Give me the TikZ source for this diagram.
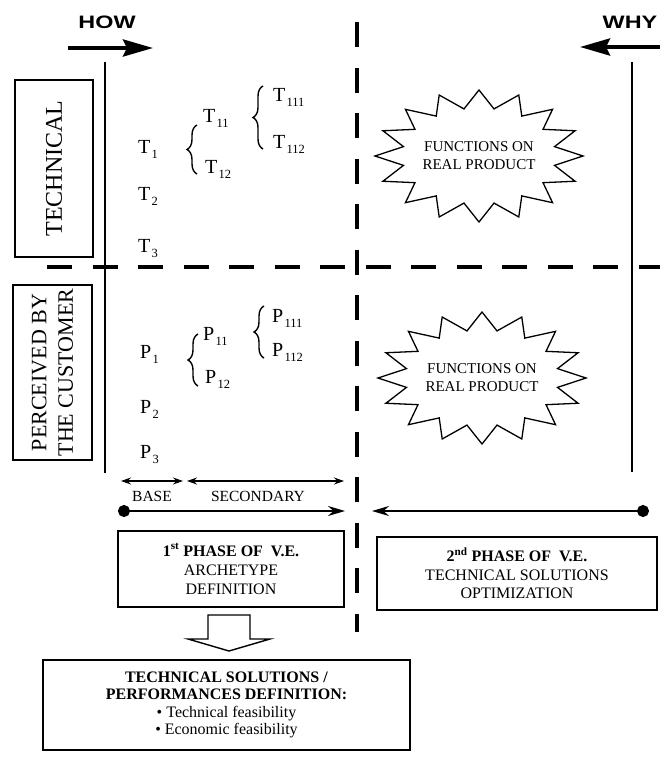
\documentclass[tikz,border=0pt]{standalone}
\usepackage{fontspec}
\setmainfont{Liberation Serif}
\newfontfamily\hsans{Liberation Sans}
\usetikzlibrary{arrows.meta,decorations.pathreplacing}
\newcommand\fs[1]{\fontsize{#1}{#1}\selectfont}
\newcommand\sbs[1]{\raisebox{-0.25em}{\fontsize{12.5}{12.5}\selectfont\kern1.2pt#1}}
\begin{document}
\begin{tikzpicture}[x=1pt,y=-1pt,
  lbl/.style={anchor=base west, inner sep=0pt, font=\fs{20}},
  frame/.style={draw, line width=1.3pt},
  dashln/.style={line width=3.5pt, dash pattern=on 25pt off 20.5pt},
  bigarrow/.style={line width=4pt, -{Stealth[length=30pt, width=17pt, inset=4pt]}},
  brc/.style={decorate, decoration={brace, amplitude=10pt}, line width=1.4pt},
  dbl/.style={line width=1.4pt, {Stealth[length=10pt,width=7pt]}-{Stealth[length=10pt,width=7pt]}},
  phase/.style={line width=1.8pt, {Circle[length=12pt]}-{Stealth[length=17pt,width=10pt]}},
  boxtxt/.style={frame, align=center, inner sep=0pt},
  hdr/.style={font=\hsans\bfseries\fs{18}, inner sep=0pt},
  star/.style={draw, line width=1.3pt, line join=miter}]
\useasboundingbox (0,0) rectangle (660,758);

% HOW / WHY
\node[hdr] (how) at (107,22) {\scalebox{1.3}[1]{HOW}};
\node[hdr] (why) at (630,22) {\scalebox{1.3}[1]{WHY}};
\coordinate (h1) at (68,48); \coordinate (h2) at (153,48);
\coordinate (w1) at (660,47); \coordinate (w2) at (580,47);
\draw[bigarrow] (h1) -- (h2);
\draw[bigarrow] (w1) -- (w2);

% solid verticals
\coordinate (l1) at (105,62); \coordinate (l2) at (105,473);
\coordinate (r1) at (632,62); \coordinate (r2) at (632,472);
\draw[line width=1.3pt] (l1) -- (l2);
\draw[line width=1.3pt] (r1) -- (r2);

% dashed axes
\coordinate (v1) at (357,22); \coordinate (v2) at (357,632);
\coordinate (d1) at (47,267); \coordinate (d2) at (660,267);
\draw[dashln] (v1) -- (v2);
\draw[dashln] (d1) -- (d2);

% side boxes
\node[frame, rotate=90, minimum width=177pt, minimum height=78pt, font=\fs{24}] (tech) at (54,168.5) {TECHNICAL};
\node[frame, rotate=90, minimum width=175pt, minimum height=79pt, font=\fontsize{22}{26.5}\selectfont, align=center, inner sep=0pt] (perc) at (52.5,372.5) {PERCEIVED BY\\THE CUSTOMER};

% T labels
\node[lbl] (t1) at (138,153) {T\sbs{1}};
\node[lbl] (t11) at (203,122) {T\sbs{11}};
\node[lbl] (t111) at (273,101) {T\sbs{111}};
\node[lbl] (t112) at (273,148) {T\sbs{112}};
\node[lbl] (t12) at (205,173) {T\sbs{12}};
\node[lbl] (t2) at (138,200) {T\sbs{2}};
\node[lbl] (t3) at (138,252) {T\sbs{3}};
\coordinate (tb1a) at (197,174); \coordinate (tb1b) at (197,125);
\coordinate (tb2a) at (263,149); \coordinate (tb2b) at (263,86);
\draw[brc] (tb1a) -- (tb1b);
\draw[brc] (tb2a) -- (tb2b);

% P labels
\node[lbl] (p1) at (140,358) {P\sbs{1}};
\node[lbl] (p11) at (203,340) {P\sbs{11}};
\node[lbl] (p111) at (272,322) {P\sbs{111}};
\node[lbl] (p112) at (272,356) {P\sbs{112}};
\node[lbl] (p12) at (205,383) {P\sbs{12}};
\node[lbl] (p2) at (140,413) {P\sbs{2}};
\node[lbl] (p3) at (140,458) {P\sbs{3}};
\coordinate (pb1a) at (198,386); \coordinate (pb1b) at (198,334);
\coordinate (pb2a) at (264,358); \coordinate (pb2b) at (264,306);
\draw[brc] (pb1a) -- (pb1b);
\draw[brc] (pb2a) -- (pb2b);

% starbursts
\foreach \cx/\cy/\nm in {479/156/sa, 482/378/sb}{
  \draw[star, shift={(\cx,\cy)}] (0:104 and 66)
    \foreach \k in {0,...,15}{ -- ({\k*22.5+11.25}:77 and 48) -- ({(\k+1)*22.5}:104 and 66) } -- cycle;
  \node[font=\fontsize{15}{18}\selectfont, align=center] (\nm) at (\cx,\cy) {FUNCTIONS ON\\REAL PRODUCT};
}

% base / secondary
\coordinate (b1) at (121,481); \coordinate (b2) at (183,481);
\coordinate (s1) at (187,481); \coordinate (s2) at (344,481);
\draw[dbl] (b1) -- (b2);
\draw[dbl] (s1) -- (s2);
\node[font=\fs{15.5}] (base) at (152,496) {BASE};
\node[font=\fs{15.5}] (sec) at (258,496) {SECONDARY};

% phase arrows
\coordinate (f1) at (118,511); \coordinate (f2) at (345,511);
\coordinate (g1) at (649,511); \coordinate (g2) at (372,511);
\draw[phase] (f1) -- (f2);
\draw[phase] (g1) -- (g2);

% phase boxes
\node[boxtxt, minimum width=226pt, minimum height=76pt, font=\fontsize{16}{19}\selectfont] (ph1) at (231,569)
  {\textbf{1\textsuperscript{st} PHASE OF\ \ V.E.}\\ARCHETYPE\\DEFINITION};
\node[boxtxt, minimum width=280pt, minimum height=73pt, font=\fontsize{16}{18.5}\selectfont] (ph2) at (517,573.5)
  {\textbf{2\textsuperscript{nd} PHASE OF\ \ V.E.}\\TECHNICAL SOLUTIONS\\OPTIMIZATION};

% block arrow
\draw[line width=1.4pt, line join=miter] (208,615) -- (250,615) -- (250,639) -- (270,639) -- (229,651) -- (188,639) -- (208,639) -- cycle;

% bottom box
\node[boxtxt, minimum width=367pt, minimum height=90pt, font=\fontsize{16}{17.5}\selectfont] (res) at (226.5,705)
  {\textbf{TECHNICAL SOLUTIONS /}\\\textbf{PERFORMANCES DEFINITION:}\\\textbullet\ Technical feasibility\\\textbullet\ Economic feasibility};
\end{tikzpicture}
\end{document}
